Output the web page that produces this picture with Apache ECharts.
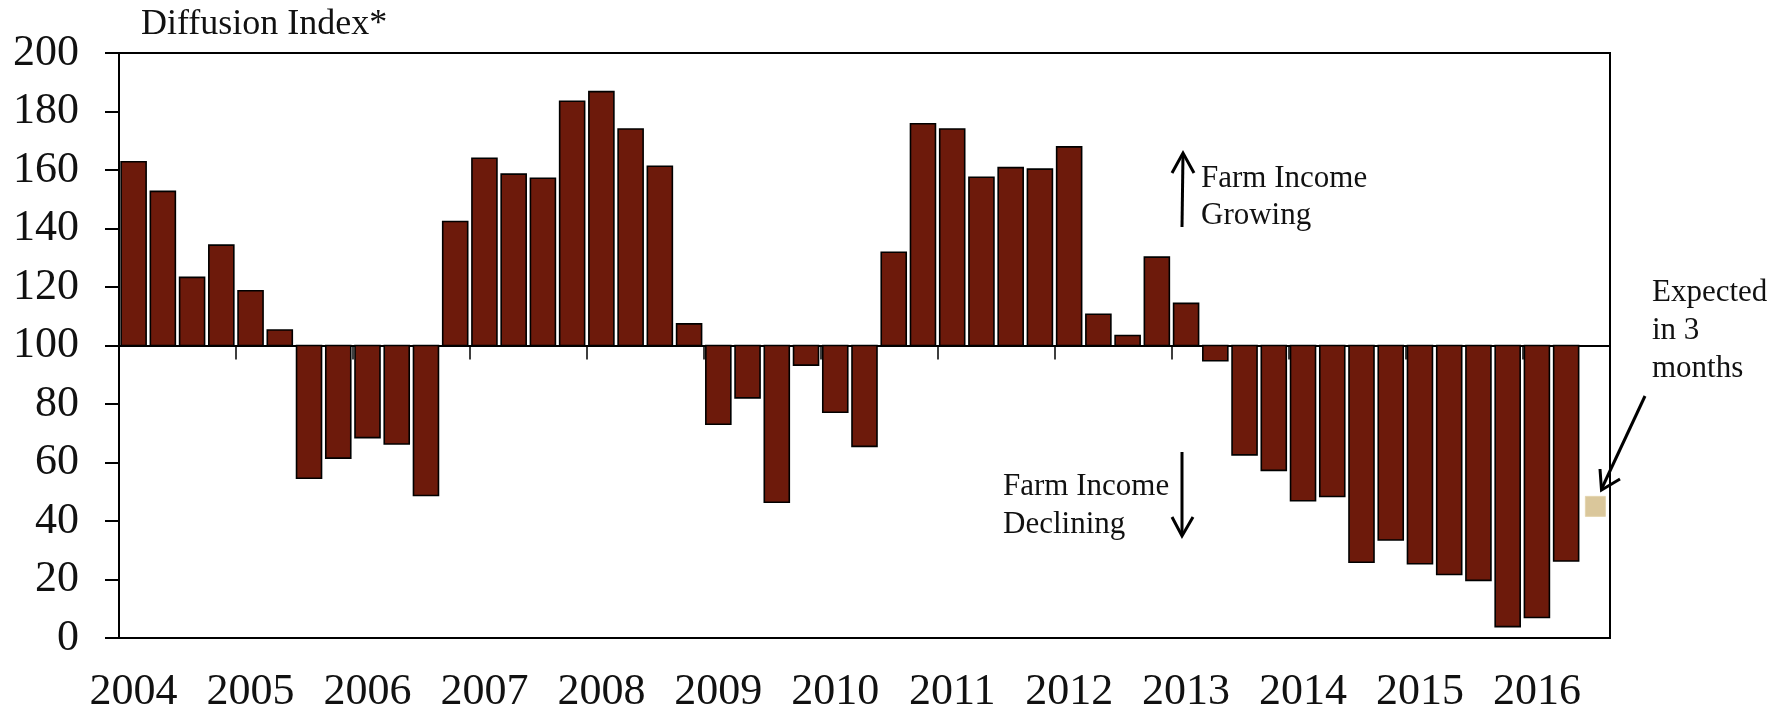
<!DOCTYPE html>
<html>
<head>
<meta charset="utf-8">
<title>Farm income diffusion index</title>
<script src="https://cdn.jsdelivr.net/npm/echarts@6/dist/echarts.min.js"></script>
<style>
  html, body { margin: 0; padding: 0; background: #fff; }
  #chart { width: 1785px; height: 714px; }
</style>
</head>
<body>
<div id="chart"></div>
<script>
// Quarterly survey periods, 2004 Q1 through 2016 Q3
const years = [2004, 2005, 2006, 2007, 2008, 2009, 2010, 2011, 2012, 2013, 2014, 2015, 2016];
const quarters = ['Q1', 'Q2', 'Q3', 'Q4'];
const categories = [];
years.forEach(y => quarters.forEach(q => categories.push(y + ' ' + q)));
categories.length = 51;

// Diffusion index readings, 2004 Q1 - 2016 Q2
const indexValues = [
  162.8, 152.7, 123.3, 134.3,
  118.7, 105.3, 54.6, 61.5,
  68.5, 66.3, 48.7, 142.4,
  164.0, 158.6, 157.2, 183.5,
  186.8, 174.0, 161.3, 107.4,
  73.1, 82.1, 46.4, 93.3,
  77.2, 65.5, 131.9, 175.8,
  174.0, 157.5, 160.8, 160.3,
  167.9, 110.7, 103.4, 130.2,
  114.4, 94.8, 62.6, 57.3,
  46.9, 48.4, 25.9, 33.5,
  25.4, 21.7, 19.7, 3.9,
  7.0, 26.3
];

// Expectation for the next quarter (2016 Q3)
const expectedIndex = 50;
const expectedValue = 45;

// Neutral level of the index: bars grow up or down from here
const BASELINE = 100;

const yTicks = { min: 0, max: 200, interval: 20 };

const FONT = "'Liberation Serif', 'DejaVu Serif', serif";
const BAR_COLOR = '#6d1a0b';
const EXPECTED_COLOR = '#dac79b';

const chart = echarts.init(document.getElementById('chart'), null, { renderer: 'canvas' });

function renderBar(params, api) {
  const idx = api.value(0);
  const v = api.value(1);
  const top = api.coord([idx, v]);
  const base = api.coord([idx, BASELINE]);
  const w = api.size([1, 0])[0] * 0.855;
  return {
    type: 'rect',
    shape: {
      x: top[0] - w / 2,
      y: Math.min(top[1], base[1]),
      width: w,
      height: Math.abs(base[1] - top[1])
    },
    style: { fill: BAR_COLOR, stroke: '#000', lineWidth: 1.6 }
  };
}

const option = {
  animation: false,
  backgroundColor: '#fff',
  title: {
    text: 'Diffusion Index*',
    left: 141,
    top: 7,
    padding: 0,
    textStyle: { fontFamily: FONT, fontSize: 36, fontWeight: 'normal', color: '#111' }
  },
  grid: {
    left: 119,
    right: 175,
    top: 53,
    bottom: 73,
    show: true,
    borderColor: '#000',
    borderWidth: 2,
    backgroundColor: 'transparent'
  },
  xAxis: [
    {
      // axis running along the neutral level, with year ticks
      type: 'category',
      data: categories,
      boundaryGap: true,
      position: 'bottom',
      axisLine: { show: true, onZero: true, onZeroAxisIndex: 1, lineStyle: { color: '#000', width: 2 } },
      axisTick: { show: true, interval: 3, length: 14, lineStyle: { color: '#000', width: 1.5 } },
      axisLabel: { show: false },
      splitLine: { show: false }
    },
    {
      // year labels under the plot
      type: 'category',
      data: categories,
      boundaryGap: true,
      position: 'bottom',
      axisLine: { show: false, onZero: false },
      axisTick: { show: false },
      axisLabel: {
        interval: 3,
        margin: 32,
        fontFamily: FONT,
        fontSize: 44,
        color: '#111',
        formatter: v => v.split(' ')[0]
      },
      splitLine: { show: false }
    }
  ],
  yAxis: [
    {
      type: 'value',
      min: yTicks.min,
      max: yTicks.max,
      interval: yTicks.interval,
      axisLine: { show: true, lineStyle: { color: '#000', width: 2 } },
      axisTick: { show: true, length: 14, lineStyle: { color: '#000', width: 2 } },
      axisLabel: { margin: 40, fontFamily: FONT, fontSize: 44, color: '#111' },
      splitLine: { show: false }
    },
    {
      // helper scale centred on the neutral level, used to seat the x axis line
      type: 'value',
      min: yTicks.min - BASELINE,
      max: yTicks.max - BASELINE,
      show: false
    }
  ],
  series: [
    {
      name: 'Farm income index',
      type: 'custom',
      xAxisIndex: 0,
      yAxisIndex: 0,
      renderItem: renderBar,
      encode: { x: 0, y: 1 },
      data: indexValues.map((v, i) => [i, v]),
      z: 3
    },
    {
      name: 'Expected in 3 months',
      type: 'scatter',
      xAxisIndex: 0,
      yAxisIndex: 0,
      symbol: 'rect',
      symbolSize: 20,
      itemStyle: { color: EXPECTED_COLOR, borderColor: '#e3d4ad', borderWidth: 1, opacity: 1 },
      data: [[expectedIndex, expectedValue]],
      z: 4
    }
  ],
  graphic: [
    {
      type: 'text',
      left: 1201,
      top: 160,
      style: { text: 'Farm Income\nGrowing', font: '31px ' + FONT, fill: '#111', lineHeight: 37 }
    },
    {
      type: 'text',
      left: 1003,
      top: 468,
      style: { text: 'Farm Income\nDeclining', font: '31px ' + FONT, fill: '#111', lineHeight: 38 }
    },
    {
      type: 'text',
      left: 1652,
      top: 274,
      style: { text: 'Expected\nin 3\nmonths', font: '31px ' + FONT, fill: '#111', lineHeight: 38 }
    },
    // upward arrow
    { type: 'line', shape: { x1: 1182, y1: 227, x2: 1183, y2: 154 }, style: { stroke: '#000', lineWidth: 3 } },
    { type: 'polyline', shape: { points: [[1172, 173], [1183, 153], [1194, 173]] }, style: { stroke: '#000', lineWidth: 3, fill: null } },
    // downward arrow
    { type: 'line', shape: { x1: 1182, y1: 452, x2: 1182, y2: 534 }, style: { stroke: '#000', lineWidth: 3 } },
    { type: 'polyline', shape: { points: [[1172, 517], [1182, 536], [1193, 517]] }, style: { stroke: '#000', lineWidth: 3, fill: null } },
    // pointer to the expected value
    { type: 'line', shape: { x1: 1645, y1: 396, x2: 1602, y2: 488 }, style: { stroke: '#000', lineWidth: 3 } },
    { type: 'polyline', shape: { points: [[1600, 469], [1601.5, 490], [1620, 479]] }, style: { stroke: '#000', lineWidth: 3, fill: null } }
  ]
};

chart.setOption(option);
</script>
</body>
</html>
